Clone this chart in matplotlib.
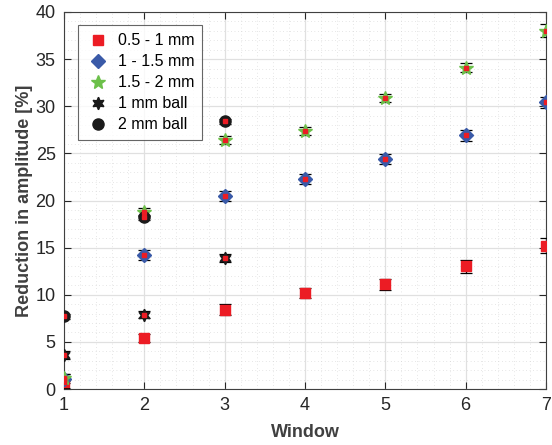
import numpy as np
import matplotlib.pyplot as plt
from matplotlib.ticker import MultipleLocator

plt.rcParams["font.family"] = ["Liberation Sans", "DejaVu Sans"]

window = [1, 2, 3, 4, 5, 6, 7]
ball_window = [1, 2, 3]

fine = [0.75, 5.4, 8.4, 10.2, 11.1, 13.0, 15.2]
fine_err = [0.6, 0.4, 0.6, 0.5, 0.6, 0.7, 0.8]
mid = [1.1, 14.2, 20.5, 22.3, 24.4, 26.9, 30.4]
mid_err = [0.5, 0.5, 0.5, 0.5, 0.5, 0.6, 0.6]
coarse = [1.2, 18.8, 26.4, 27.4, 30.9, 34.1, 38.0]
coarse_err = [0.4, 0.4, 0.4, 0.4, 0.4, 0.5, 0.7]
ball1 = [3.6, 7.9, 13.9]
ball1_err = [0.4, 0.4, 0.4]
ball2 = [7.7, 18.2, 28.4]
ball2_err = [0.3, 0.3, 0.3]

fig = plt.figure(figsize=(5.52, 4.45), dpi=100)
ax = fig.add_axes([64 / 552, 56 / 445, 482 / 552, 377 / 445])

hexagram = (6, 1, 0)
series = [
    (fine, fine_err, window, "s", "#ec1c24", 7, "0.5 - 1 mm"),
    (mid, mid_err, window, "D", "#3a5aa8", 7, "1 - 1.5 mm"),
    (coarse, coarse_err, window, "*", "#6cc04a", 10, "1.5 - 2 mm"),
    (ball1, ball1_err, ball_window, hexagram, "#1a1a1a", 9, "1 mm ball"),
    (ball2, ball2_err, ball_window, "o", "#1a1a1a", 8, "2 mm ball"),
]
for y, err, x, m, c, ms, lab in series:
    ax.errorbar(x, y, yerr=err, fmt="none", ecolor="black", elinewidth=0.9,
                capsize=4, capthick=0.9, zorder=3)
    ax.plot(x, y, ls="none", marker=m, color=c, markersize=ms, label=lab,
            markeredgecolor=c, zorder=4)
    ax.plot(x, y, ls="none", marker="s", color="#ec1c24", markersize=2.5, zorder=5)

ax.set_xlim(1, 7)
ax.set_ylim(0, 40)
ax.xaxis.set_major_locator(MultipleLocator(1))
ax.yaxis.set_major_locator(MultipleLocator(5))
ax.xaxis.set_minor_locator(MultipleLocator(0.2))
ax.yaxis.set_minor_locator(MultipleLocator(1))
ax.grid(which="major", color="#e0e0e0", lw=0.9)
ax.grid(which="minor", color="#cfcfcf", lw=0.5, ls=(0, (1, 4)))
ax.set_axisbelow(True)
ax.tick_params(which="major", direction="in", top=True, right=True, length=5,
               labelsize=13, colors="#262626", width=0.8, pad=6)
ax.tick_params(which="minor", length=0)
for s in ax.spines.values():
    s.set_color("#404040")
    s.set_linewidth(0.8)

ax.set_xlabel("Window", fontsize=13, fontweight="bold", color="#404040", labelpad=7)
ax.set_ylabel("Reduction in amplitude [%]", fontsize=13, fontweight="bold",
              color="#404040", labelpad=2)

leg = ax.legend(loc="upper left", bbox_to_anchor=(0.029, 0.965), fontsize=11.5,
                frameon=True, fancybox=False, edgecolor="#404040",
                handletextpad=0.5, borderpad=0.5, labelspacing=0.38,
                handlelength=1.5, borderaxespad=0)
leg.get_frame().set_linewidth(0.8)

fig.savefig("out.png", dpi=100)
